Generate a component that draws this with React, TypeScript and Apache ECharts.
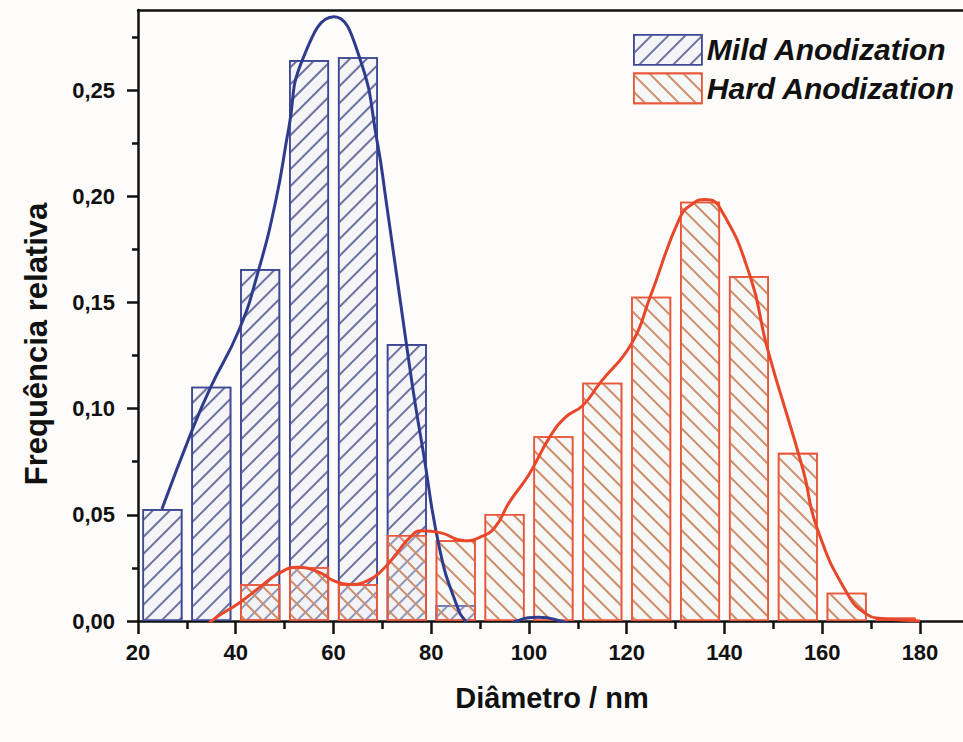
import React, { useEffect, useRef } from "react";
import * as echarts from "echarts";

// Histogram bin centres (nm) and relative frequencies
const mildCenters = [25, 35, 45, 55, 65, 75, 85];
const mildFreq = [0.0527, 0.1103, 0.1657, 0.2641, 0.2655, 0.1304, 0.0075];

const hardCenters = [45, 55, 65, 75, 85, 95, 105, 115, 125, 135, 145, 155, 165, 175];
const hardFreq = [0.0173, 0.0253, 0.0173, 0.0405, 0.038, 0.0504, 0.087, 0.1122, 0.1527, 0.1974, 0.1624, 0.0792, 0.0133, 0.0016];

// Fitted distribution curves
const mildCurveX = [24.9, 31.1, 34.85, 40.66, 44.4, 48.2, 50.9, 53.6, 60.1, 65.3, 69, 70.75, 74.9, 76.6, 78.3, 81.8, 85.2, 87, 90, 94, 97.5, 102, 106.5, 110];
const mildCurveY = [0.0527, 0.09, 0.11, 0.137, 0.163, 0.198, 0.2327, 0.264, 0.2845, 0.2655, 0.2249, 0.198, 0.1307, 0.104, 0.0805, 0.033, 0.0075, 0, -0.006, -0.004, 0, 0.0018, 0, -0.003];

const hardCurveX = [31, 35.1, 40.7, 45, 48.5, 52.6, 57, 60, 63.2, 67, 70, 73, 75.5, 78, 82, 86.8, 90, 93, 96, 100, 104.3, 107.5, 111, 114.5, 121, 124.8, 130.9, 133.5, 136, 139.1, 145.3, 148.7, 156.1, 158.9, 165.1, 169.2, 172, 176, 180];
const hardCurveY = [-0.01, 0, 0.0085, 0.016, 0.022, 0.0253, 0.023, 0.019, 0.0172, 0.019, 0.024, 0.032, 0.039, 0.0425, 0.0415, 0.0378, 0.0395, 0.044, 0.056, 0.069, 0.0868, 0.096, 0.1015, 0.112, 0.1307, 0.1527, 0.19, 0.1965, 0.1985, 0.1944, 0.162, 0.129, 0.071, 0.044, 0.013, 0.003, 0.0012, 0.0005, 0];

// Axis tick values
const xMajor = [20, 40, 60, 80, 100, 120, 140, 160, 180];
const xMinor = [30, 50, 70, 90, 110, 130, 150, 170];
const yMajor = [0, 0.05, 0.1, 0.15, 0.2, 0.25];
const yMinor = [0.025, 0.075, 0.125, 0.175, 0.225, 0.275];

const FONT = "'Liberation Sans', Arial, sans-serif";
const INK = "#111111";
const X_MIN = 20;
const X_MAX = 188.8;
const Y_MIN = 0;
const Y_MAX = 0.2877;

const hatch = (color: string, rotation: number) => ({
  symbol: "rect",
  symbolSize: 1,
  dashArrayX: [1, 0],
  dashArrayY: [1.2, 10],
  rotation,
  color,
});

export default function App() {
  const ref = useRef<HTMLDivElement>(null);

  useEffect(() => {
    if (!ref.current) return;
    const chart = echarts.init(ref.current, undefined, { renderer: "svg" });

    const axisLineStyle = { color: INK, width: 2.5 };
    const xBase = { type: "value", min: X_MIN, max: X_MAX, splitLine: { show: false } };
    const yBase = { type: "value", min: Y_MIN, max: Y_MAX, splitLine: { show: false } };

    chart.setOption({
      animation: false,
      backgroundColor: "#fdfcfa",
      grid: { left: 138, right: 0, top: 10, bottom: 121, outerBoundsMode: "none", containLabel: false },
      legend: {
        data: ["Mild Anodization", "Hard Anodization"],
        orient: "vertical",
        left: 633,
        top: 34,
        padding: 0,
        icon: "rect",
        itemWidth: 68,
        itemHeight: 30,
        itemGap: 7,
        itemStyle: { borderWidth: 1.6 },
        textStyle: { fontFamily: FONT, fontSize: 30, fontWeight: "bold", fontStyle: "italic", color: INK },
      },
      xAxis: [
        {
          ...xBase,
          position: "bottom",
          axisLine: { show: true, lineStyle: axisLineStyle },
          axisTick: { show: true, customValues: xMajor, length: 13, lineStyle: axisLineStyle },
          axisLabel: {
            customValues: xMajor,
            margin: 20,
            fontFamily: FONT,
            fontSize: 22,
            fontWeight: "bold",
            color: INK,
          },
        },
        {
          ...xBase,
          position: "bottom",
          axisLine: { show: false },
          axisTick: { show: true, customValues: xMinor, length: 8, lineStyle: axisLineStyle },
          axisLabel: { show: false },
        },
        {
          ...xBase,
          position: "top",
          axisLine: { show: true, lineStyle: axisLineStyle },
          axisTick: { show: false },
          axisLabel: { show: false },
        },
      ],
      yAxis: [
        {
          ...yBase,
          position: "left",
          axisLine: { show: true, lineStyle: axisLineStyle },
          axisTick: { show: true, customValues: yMajor, length: 11, lineStyle: axisLineStyle },
          axisLabel: {
            customValues: yMajor,
            margin: 23,
            fontFamily: FONT,
            fontSize: 22,
            fontWeight: "bold",
            color: INK,
            formatter: (v: number) => v.toFixed(2).replace(".", ","),
          },
        },
        {
          ...yBase,
          position: "left",
          axisLine: { show: false },
          axisTick: { show: true, customValues: yMinor, length: 6, lineStyle: axisLineStyle },
          axisLabel: { show: false },
        },
      ],
      graphic: [
        {
          type: "text",
          x: 36,
          y: 344,
          rotation: Math.PI / 2,
          style: {
            text: "Frequência relativa",
            fontFamily: FONT,
            fontSize: 31,
            fontWeight: "bold",
            fill: INK,
            textAlign: "center",
            textVerticalAlign: "middle",
          },
        },
        {
          type: "text",
          x: 552,
          y: 698,
          style: {
            text: "Diâmetro / nm",
            fontFamily: FONT,
            fontSize: 29,
            fontWeight: "bold",
            fill: INK,
            textAlign: "center",
            textVerticalAlign: "middle",
          },
        },
      ],
      series: [
        {
          name: "Mild Anodization",
          type: "bar",
          xAxisIndex: 0,
          yAxisIndex: 0,
          barWidth: 40,
          barGap: "-100%",
          z: 2,
          data: mildCenters.map((c, i) => [c, mildFreq[i]]),
          itemStyle: {
            color: "rgba(228,232,243,0.35)",
            borderColor: "#3f4895",
            borderWidth: 1.6,
            decal: hatch("#6d719f", -Math.PI / 4),
          },
          emphasis: { disabled: true },
        },
        {
          name: "Hard Anodization",
          type: "bar",
          xAxisIndex: 0,
          yAxisIndex: 0,
          barWidth: 40,
          barGap: "-100%",
          z: 3,
          data: hardCenters.map((c, i) => [c, hardFreq[i]]),
          itemStyle: {
            color: "rgba(232,238,244,0.3)",
            borderColor: "#e9573b",
            borderWidth: 1.6,
            decal: hatch("#cf8c68", Math.PI / 4),
          },
          emphasis: { disabled: true },
        },
        {
          name: "Mild fit",
          type: "line",
          xAxisIndex: 0,
          yAxisIndex: 0,
          z: 4,
          smooth: 0.5,
          showSymbol: false,
          clip: true,
          data: mildCurveX.map((x, i) => [x, mildCurveY[i]]),
          lineStyle: { color: "#2f3b8c", width: 3 },
          emphasis: { disabled: true },
        },
        {
          name: "Hard fit",
          type: "line",
          xAxisIndex: 0,
          yAxisIndex: 0,
          z: 5,
          smooth: 0.5,
          showSymbol: false,
          clip: true,
          data: hardCurveX.map((x, i) => [x, hardCurveY[i]]),
          lineStyle: { color: "#e9472a", width: 3 },
          emphasis: { disabled: true },
        },
      ],
    });

    return () => chart.dispose();
  }, []);

  return (
    <div
      ref={ref}
      style={{ position: "fixed", left: 0, top: 0, width: 963, height: 742 }}
    />
  );
}
